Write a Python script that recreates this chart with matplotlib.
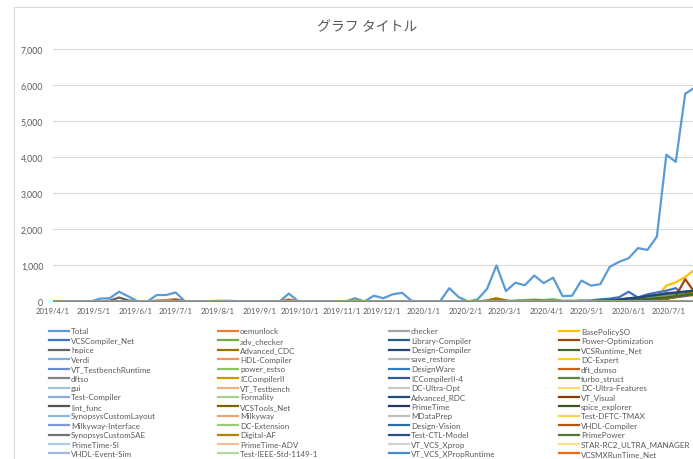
"""Weekly license usage chart, Excel style line chart with a wide legend."""

import colorsys
from datetime import date, timedelta

import matplotlib

matplotlib.use("Agg")
import matplotlib.dates as mdates
import matplotlib.pyplot as plt
from matplotlib.lines import Line2D
from matplotlib.patches import Rectangle
from matplotlib.ticker import FixedLocator, FuncFormatter, MultipleLocator

W, H = 693, 460
TEXT_COLOR = "#595959"
GRID_COLOR = "#D9D9D9"
LABEL_FONT = ["Lato", "DejaVu Sans"]
TITLE_FONT = ["Noto Sans CJK JP", "DejaVu Sans"]

TITLE = "グラフ タイトル"
START = date(2019, 4, 1)
N_WEEKS = 69
WEEKS = [START + timedelta(weeks=i) for i in range(N_WEEKS)]
MONTH_TICKS = [date(2019 + (3 + m) // 12, (3 + m) % 12 + 1, 1) for m in range(16)]

SERIES_NAMES = [
    "Total", "oemunlock", "checker", "BasePolicySO",
    "VCSCompiler_Net", "adv_checker", "Library-Compiler", "Power-Optimization",
    "hspice", "Advanced_CDC", "Design-Compiler", "VCSRuntime_Net",
    "Verdi", "HDL-Compiler", "save_restore", "DC-Expert",
    "VT_TestbenchRuntime", "power_estso", "DesignWare", "dft_dsmso",
    "dftso", "ICCompilerII", "ICCompilerII-4", "turbo_struct",
    "gui", "VT_Testbench", "DC-Ultra-Opt", "DC-Ultra-Features",
    "Test-Compiler", "Formality", "Advanced_RDC", "VT_Visual",
    "lint_func", "VCSTools_Net", "PrimeTime", "spice_explorer",
    "SynopsysCustomLayout", "Milkyway", "MDataPrep", "Test-DFTC-TMAX",
    "Milkyway-Interface", "DC-Extension", "Design-Vision", "VHDL-Compiler",
    "SynopsysCustomSAE", "Digital-AF", "Test-CTL-Model", "PrimePower",
    "PrimeTime-SI", "PrimeTime-ADV", "VT_VCS_Xprop", "STAR-RC2_ULTRA_MANAGER",
    "VHDL-Event-Sim", "Test-IEEE-Std-1149-1", "VT_VCS_XPropRuntime", "VCSMXRunTime_Net",
]

TOTAL = [
    0, 0, 0, 0, 0, 80, 90, 270, 140, 0,
    0, 180, 180, 250, 0, 0, 5, 15, 20, 15,
    5, 0, 0, 0, 0, 220, 0, 0, 10, 10,
    0, 0, 90, 0, 160, 90, 200, 240, 20, 0,
    0, 0, 370, 120, 0, 60, 350, 1000, 290, 520,
    450, 720, 510, 660, 150, 160, 580, 440, 480, 960,
    1100, 1200, 1480, 1430, 1800, 4070, 3870, 5760, 5930,
]
OEMUNLOCK = [
    0, 0, 0, 0, 0, 0, 0, 0, 0, 0,
    0, 30, 40, 70, 0, 0, 0, 0, 0, 0,
    0, 0, 0, 0, 0, 60, 0, 0, 0, 0,
    0, 0, 20, 0, 0, 0, 0, 0, 0, 0,
    0, 0, 0, 0, 0, 0, 0, 30, 0, 0,
    0, 0, 0, 0, 0, 0, 0, 0, 0, 0,
    20, 40, 30, 60, 80, 100, 120, 150, 180,
]
BASE_POLICY_SO = [
    0, 0, 0, 0, 0, 0, 0, 0, 0, 0,
    0, 0, 0, 0, 0, 0, 0, 0, 0, 0,
    0, 0, 0, 0, 0, 0, 0, 0, 0, 0,
    0, 0, 0, 0, 0, 0, 0, 0, 0, 0,
    0, 0, 0, 0, 0, 0, 20, 100, 20, 0,
    0, 0, 0, 0, 0, 0, 0, 0, 20, 40,
    30, 60, 120, 90, 130, 440, 530, 680, 880,
]
VCS_COMPILER_NET = [
    0, 0, 0, 0, 0, 0, 0, 0, 0, 0,
    0, 0, 0, 0, 0, 0, 0, 0, 0, 0,
    0, 0, 0, 0, 0, 0, 0, 0, 0, 0,
    0, 0, 0, 0, 0, 0, 0, 0, 0, 0,
    0, 0, 0, 0, 0, 0, 0, 0, 0, 0,
    0, 0, 0, 0, 0, 0, 20, 30, 60, 80,
    120, 270, 110, 200, 250, 300, 370, 150, 300,
]
ADV_CHECKER = [
    0, 0, 0, 0, 0, 0, 0, 0, 0, 0,
    0, 0, 0, 0, 0, 0, 0, 0, 0, 0,
    0, 0, 0, 0, 0, 0, 0, 0, 0, 0,
    0, 0, 0, 0, 0, 0, 0, 0, 0, 0,
    0, 0, 0, 0, 0, 0, 0, 0, 0, 30,
    40, 50, 40, 60, 20, 20, 30, 0, 0, 0,
    40, 60, 90, 80, 120, 160, 200, 240, 260,
]
LIBRARY_COMPILER = [
    0, 0, 0, 0, 0, 0, 0, 0, 0, 0,
    0, 0, 0, 0, 0, 0, 0, 0, 0, 0,
    0, 0, 0, 0, 0, 0, 0, 0, 0, 0,
    0, 0, 0, 0, 0, 0, 0, 0, 0, 0,
    0, 0, 0, 0, 0, 0, 0, 0, 0, 0,
    0, 0, 0, 0, 0, 0, 0, 0, 20, 40,
    60, 90, 120, 150, 180, 210, 240, 260, 280,
]
POWER_OPTIMIZATION = [
    0, 0, 0, 0, 0, 0, 0, 0, 0, 0,
    0, 0, 0, 0, 0, 0, 0, 0, 0, 0,
    0, 0, 0, 0, 0, 0, 0, 0, 0, 0,
    0, 0, 0, 0, 0, 0, 0, 0, 0, 0,
    0, 0, 0, 0, 0, 0, 0, 0, 0, 0,
    0, 0, 0, 0, 0, 0, 0, 0, 0, 0,
    0, 0, 0, 0, 30, 60, 150, 620, 250,
]
HSPICE = [
    0, 0, 0, 0, 0, 0, 20, 110, 30, 0,
    0, 0, 0, 40, 0, 0, 0, 0, 0, 0,
    0, 0, 0, 0, 0, 30, 0, 0, 0, 0,
    0, 0, 0, 0, 0, 0, 0, 0, 0, 0,
    0, 0, 0, 0, 0, 0, 0, 0, 0, 0,
    0, 0, 0, 0, 0, 0, 0, 0, 0, 0,
    0, 0, 40, 60, 80, 100, 120, 160, 200,
]
ADVANCED_CDC = [
    0, 0, 0, 0, 0, 0, 0, 0, 0, 0,
    0, 0, 0, 0, 0, 0, 0, 0, 0, 0,
    0, 0, 0, 0, 0, 0, 0, 0, 0, 0,
    0, 0, 0, 0, 0, 0, 0, 0, 0, 0,
    0, 0, 0, 0, 0, 0, 30, 80, 30, 0,
    0, 30, 20, 0, 0, 0, 0, 0, 0, 0,
    0, 0, 0, 0, 0, 80, 120, 200, 250,
]
DESIGN_COMPILER = [
    0, 0, 0, 0, 0, 0, 0, 0, 0, 0,
    0, 0, 0, 0, 0, 0, 0, 0, 0, 0,
    0, 0, 0, 0, 0, 0, 0, 0, 0, 0,
    0, 0, 0, 0, 0, 0, 0, 0, 0, 0,
    0, 0, 0, 0, 0, 0, 0, 0, 0, 0,
    0, 0, 0, 0, 0, 0, 0, 0, 0, 0,
    50, 80, 100, 150, 180, 230, 250, 280, 300,
]
VCS_RUNTIME_NET = [
    0, 0, 0, 0, 0, 0, 0, 0, 0, 0,
    0, 0, 0, 0, 0, 0, 0, 0, 0, 0,
    0, 0, 0, 0, 0, 0, 0, 0, 0, 0,
    0, 0, 0, 0, 0, 0, 0, 0, 0, 0,
    0, 0, 0, 0, 0, 0, 0, 0, 0, 0,
    0, 0, 0, 0, 0, 0, 0, 0, 0, 0,
    0, 30, 50, 70, 90, 110, 150, 180, 210,
]
# every other series stays on the zero line over the visible weeks
FLAT_ZERO = [0] * N_WEEKS

SERIES_VALUES = {
    "Total": TOTAL,
    "oemunlock": OEMUNLOCK,
    "BasePolicySO": BASE_POLICY_SO,
    "VCSCompiler_Net": VCS_COMPILER_NET,
    "adv_checker": ADV_CHECKER,
    "Library-Compiler": LIBRARY_COMPILER,
    "Power-Optimization": POWER_OPTIMIZATION,
    "hspice": HSPICE,
    "Advanced_CDC": ADVANCED_CDC,
    "Design-Compiler": DESIGN_COMPILER,
    "VCSRuntime_Net": VCS_RUNTIME_NET,
}

# Office 2013 accents and the shade steps Excel walks through after six series
ACCENTS = ["#5B9BD5", "#ED7D31", "#A5A5A5", "#FFC000", "#4472C4", "#70AD47"]
SHADES = [(1.0, 0.0), (0.6, 0.0), (0.8, 0.2), (0.8, 0.0), (0.6, 0.4),
          (0.5, 0.0), (0.7, 0.3), (0.7, 0.0), (0.5, 0.5), (0.9, 0.0)]


def excel_color(index: int) -> tuple[float, float, float]:
    """Colour Excel gives to the n-th series of a chart."""
    hex_color = ACCENTS[index % 6].lstrip("#")
    lum_mod, lum_off = SHADES[(index // 6) % len(SHADES)]
    r, g, b = (int(hex_color[k:k + 2], 16) / 255 for k in (0, 2, 4))
    h, l, s = colorsys.rgb_to_hls(r, g, b)
    return colorsys.hls_to_rgb(h, min(1.0, l * lum_mod + lum_off), s)


def px(x: float, y: float) -> tuple[float, float]:
    """Pixel position (from top left) to figure fraction."""
    return x / W, 1 - y / H


fig = plt.figure(figsize=(W / 100, H / 100), dpi=100)
fig.patch.set_facecolor("white")

# chart area border, cut off by the screenshot on the right and bottom
fig.add_artist(Rectangle(px(14, 470), (W + 20) / W, 462 / H,
                         transform=fig.transFigure, fill=False,
                         edgecolor=GRID_COLOR, linewidth=0.8))

PX_PER_DAY = 1.348
plot_left, plot_right = 53, 900
ax = fig.add_axes([plot_left / W, 1 - 302.5 / H,
                   (plot_right - plot_left) / W, (302.5 - 50) / H])

colors = [excel_color(i) for i in range(len(SERIES_NAMES))]
for name, color in zip(SERIES_NAMES, colors):
    values = SERIES_VALUES.get(name, FLAT_ZERO)
    ax.plot(WEEKS, values, color=color, linewidth=1.6, solid_joinstyle="round")

x0 = mdates.date2num(START)
ax.set_xlim(x0, x0 + (plot_right - plot_left) / PX_PER_DAY)
ax.set_ylim(0, 7000)
ax.yaxis.set_major_locator(MultipleLocator(1000))
ax.yaxis.set_major_formatter(FuncFormatter(lambda v, _: f"{v:,.0f}"))
ax.xaxis.set_major_locator(FixedLocator(mdates.date2num(MONTH_TICKS)))
ax.xaxis.set_major_formatter(
    FuncFormatter(lambda v, _: "{0.year}/{0.month}/{0.day}".format(mdates.num2date(v)))
)
ax.grid(axis="y", color=GRID_COLOR, linewidth=0.8)
ax.set_axisbelow(True)
for spine in ax.spines.values():
    spine.set_visible(False)
ax.tick_params(length=0, labelcolor=TEXT_COLOR)
ax.tick_params(axis="y", pad=7, labelsize=6.3)
ax.tick_params(axis="x", pad=4, labelsize=5.6)
for label in ax.get_xticklabels() + ax.get_yticklabels():
    label.set_family(LABEL_FONT)

fig.text(*px(367, 27), TITLE, ha="center", va="center", fontsize=10,
         color=TEXT_COLOR, family=TITLE_FONT)

# legend, laid out row by row in four columns like Excel does
col_x = [49, 218, 389, 559]
for i, (name, color) in enumerate(zip(SERIES_NAMES, colors)):
    row, col = divmod(i, 4)
    y = 332 + 9.42 * row
    fig.add_artist(Line2D([col_x[col] / W, (col_x[col] + 20) / W], [1 - y / H] * 2,
                          transform=fig.transFigure, color=color, linewidth=1.6))
    fig.text(*px(col_x[col] + 22, y), name, ha="left", va="center",
             fontsize=5.8, color=TEXT_COLOR, family=LABEL_FONT)

fig.savefig("out.png", dpi=100)
